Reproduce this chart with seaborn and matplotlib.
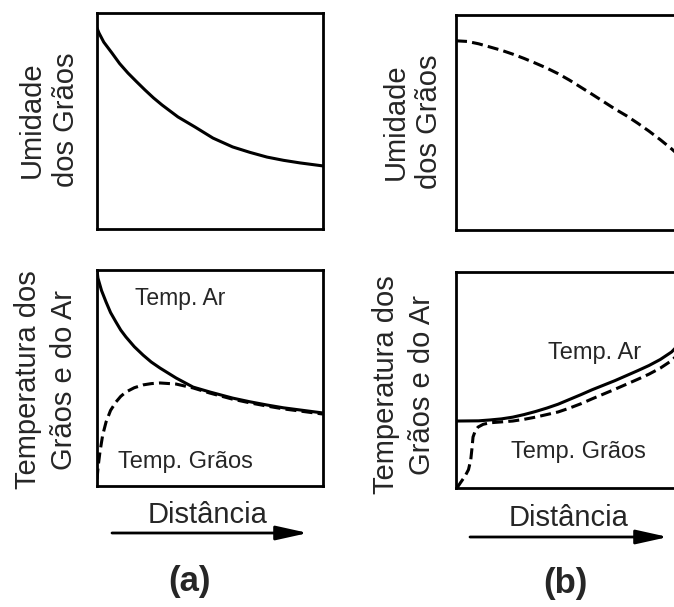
import numpy as np
import pandas as pd
import seaborn as sns
import matplotlib.pyplot as plt
import matplotlib.patches as mpatches

sns.set_style("white")
plt.rcParams['font.family'] = ['Liberation Sans', 'DejaVu Sans']

# normalised distance / value
# (a) grain moisture
xa_um = [0, 0.009, 0.03, 0.066, 0.1, 0.137, 0.175, 0.212, 0.25, 0.288, 0.358, 0.434, 0.513, 0.60, 0.676, 0.752, 0.825, 0.898, 1.0]
ya_um = [0.93, 0.907, 0.865, 0.815, 0.766, 0.722, 0.682, 0.644, 0.607, 0.574, 0.519, 0.472, 0.421, 0.38, 0.355, 0.333, 0.318, 0.306, 0.292]
# (a) air / grain temperature
xa_ar = [0, 0.004, 0.02, 0.04, 0.06, 0.084, 0.105, 0.128, 0.165, 0.204, 0.24, 0.279, 0.35, 0.425, 0.50, 0.60, 0.676, 0.752, 0.825, 0.898, 1.0]
ya_ar = [1.0, 0.963, 0.905, 0.852, 0.803, 0.759, 0.722, 0.690, 0.645, 0.606, 0.574, 0.546, 0.50, 0.458, 0.435, 0.407, 0.39, 0.375, 0.362, 0.352, 0.338]
xa_gr = [0, 0.005, 0.013, 0.025, 0.04, 0.06, 0.084, 0.105, 0.128, 0.165, 0.204, 0.24, 0.279, 0.35, 0.425, 0.50, 0.60, 0.676, 0.752, 0.825, 0.898, 1.0]
ya_gr = [0.03, 0.09, 0.157, 0.235, 0.296, 0.35, 0.389, 0.415, 0.435, 0.455, 0.468, 0.474, 0.477, 0.472, 0.454, 0.43, 0.402, 0.385, 0.37, 0.357, 0.347, 0.333]

# (b) grain moisture
xb_um = [0, 0.05, 0.1, 0.15, 0.2, 0.25, 0.3, 0.35, 0.4, 0.45, 0.5, 0.55, 0.6, 0.65, 0.7, 0.75, 0.8, 0.85, 0.9, 0.95, 1.0]
yb_um = [0.88, 0.877, 0.866, 0.851, 0.836, 0.818, 0.798, 0.776, 0.753, 0.727, 0.697, 0.664, 0.631, 0.597, 0.563, 0.532, 0.497, 0.46, 0.42, 0.377, 0.33]
# (b) air / grain temperature
xb_ar = [0, 0.1, 0.15, 0.2, 0.25, 0.3, 0.35, 0.4, 0.45, 0.5, 0.55, 0.6, 0.65, 0.7, 0.75, 0.8, 0.85, 0.9, 0.95, 1.0]
yb_ar = [0.31, 0.311, 0.315, 0.32, 0.328, 0.34, 0.354, 0.37, 0.388, 0.41, 0.432, 0.455, 0.476, 0.497, 0.52, 0.543, 0.567, 0.595, 0.63, 0.685]
xb_gr = [0.004, 0.02, 0.04, 0.055, 0.065, 0.07, 0.075, 0.085, 0.097, 0.12, 0.15, 0.2, 0.25, 0.3, 0.35, 0.4, 0.45, 0.5, 0.55, 0.6, 0.65, 0.7, 0.75, 0.8, 0.85, 0.9, 0.95, 1.0]
yb_gr = [0.0, 0.025, 0.055, 0.085, 0.13, 0.18, 0.236, 0.265, 0.282, 0.295, 0.302, 0.306, 0.31, 0.318, 0.328, 0.34, 0.352, 0.37, 0.39, 0.413, 0.435, 0.457, 0.48, 0.503, 0.527, 0.555, 0.59, 0.64]

W, H = 674, 607
fig = plt.figure(figsize=(W / 100, H / 100), dpi=100)


def box(px0, px1, py0, py1):
    # pixel box -> figure-fraction axes
    ax = fig.add_axes([px0 / W, 1 - py1 / H, (px1 - px0) / W, (py1 - py0) / H])
    ax.set_xlim(0, 1)
    ax.set_ylim(0, 1)
    ax.set_xticks([])
    ax.set_yticks([])
    for s in ax.spines.values():
        s.set_linewidth(2.0)
        s.set_color("black")
    return ax


lw = 2.2
dash = (0, (3.6, 1.7))

ax1 = box(97, 323, 13, 229)
sns.lineplot(x=xa_um, y=ya_um, ax=ax1, color="black", lw=lw, sort=False, estimator=None)

ax2 = box(456, 683, 15, 230)
sns.lineplot(x=xb_um, y=yb_um, ax=ax2, color="black", lw=lw, ls=dash, sort=False, estimator=None)

ax3 = box(97, 323, 270, 486)
sns.lineplot(x=xa_ar, y=ya_ar, ax=ax3, color="black", lw=lw, sort=False, estimator=None)
sns.lineplot(x=xa_gr, y=ya_gr, ax=ax3, color="black", lw=lw, ls=dash, sort=False, estimator=None)
ax3.text(0.37, 0.87, "Temp. Ar", fontsize=16.5, ha="center", va="center")
ax3.text(0.39, 0.11, "Temp. Grãos", fontsize=17, ha="center", va="center")

ax4 = box(456, 683, 272, 488)
sns.lineplot(x=xb_ar, y=yb_ar, ax=ax4, color="black", lw=lw, sort=False, estimator=None)
sns.lineplot(x=xb_gr, y=yb_gr, ax=ax4, color="black", lw=lw, ls=dash, sort=False, estimator=None)
ax4.text(0.61, 0.625, "Temp. Ar", fontsize=17, ha="center", va="center")
ax4.text(0.54, 0.167, "Temp. Grãos", fontsize=17, ha="center", va="center")

# y labels
lab = dict(rotation=90, ha="center", va="center", multialignment="center", fontsize=21)
fig.text(49 / W, 1 - 120 / H, "Umidade\ndos Grãos", linespacing=1.25, **lab)
fig.text(412 / W, 1 - 122 / H, "Umidade\ndos Grãos", linespacing=1.25, **lab)
fig.text(46 / W, 1 - 380 / H, "Temperatura dos\nGrãos e do Ar", linespacing=1.35, **lab)
fig.text(404 / W, 1 - 385 / H, "Temperatura dos\nGrãos e do Ar", linespacing=1.35, **lab)

# distance labels with arrows
fig.text(208 / W, 1 - 515 / H, "Distância", fontsize=21, ha="center", va="center")
fig.text(569 / W, 1 - 518 / H, "Distância", fontsize=21, ha="center", va="center")
for x0, x1, y in [(112, 308, 533), (470, 668, 537)]:
    fig.add_artist(mpatches.FancyArrowPatch(
        (x0 / W, 1 - y / H), (x1 / W, 1 - y / H), transform=fig.transFigure,
        arrowstyle="-|>,head_length=1.35,head_width=0.3", mutation_scale=14.4,
        lw=2.0, color="black", shrinkA=0, shrinkB=0))

fig.text(190 / W, 1 - 581 / H, "(a)", fontsize=25, fontweight="bold", ha="center", va="center")
fig.text(565 / W, 1 - 583 / H, "(b)", fontsize=25, fontweight="bold", ha="center", va="center")

fig.savefig("out.png", dpi=100)
